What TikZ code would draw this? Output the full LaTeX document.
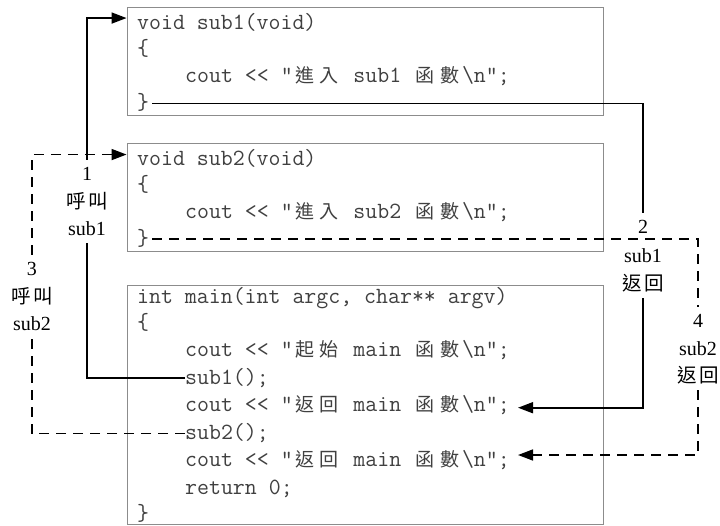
\documentclass[tikz,border=0pt]{standalone}
\usepackage{fontspec}
\setmainfont{Liberation Serif}
\newfontfamily\cjk{Noto Sans CJK TC}
\usetikzlibrary{arrows.meta}
\newcommand\zh[1]{\makebox[24.4pt]{\cjk\fontsize{19}{19}\selectfont #1}}
\newcommand\zhl[1]{\makebox[22pt]{\cjk\fontsize{19.5}{20}\selectfont #1}}
\begin{document}
\begin{tikzpicture}[x=1pt,y=-1pt,
  codebox/.style={draw=black!45, line width=0.9pt, inner sep=0pt},
  code/.style={anchor=base west, inner sep=0pt, text height=15pt, text depth=3pt,
    font=\fontsize{23.2}{24}\selectfont\ttfamily\frenchspacing, text=black!75},
  lbl/.style={anchor=base, inner xsep=2pt, inner ysep=4pt, text height=16pt, text depth=4pt,
    font=\fontsize{20}{24}\selectfont},
  conn/.style={line width=1.6pt},
  dconn/.style={conn, dash pattern=on 10pt off 7pt},
  tip/.style={-{Triangle[length=15pt,width=11pt]}}
]
\fill[white] (0,0) rectangle (720,525);
\useasboundingbox (0,0) rectangle (720,525);

% boxes
\node[codebox, minimum width=476pt, minimum height=108pt] (B1) at (365,61) {};
\node[codebox, minimum width=476pt, minimum height=108pt] (B2) at (365,197) {};
\node[codebox, minimum width=476pt, minimum height=239pt] (B3) at (365,404.5) {};

% box 1
\node[code] (T11) at (137,29.3) {void sub1(void)};
\node[code] (T12) at (137,55.8) {\{};
\node[code] (T13) at (185,82.6) {cout <{}< "\zh{進}\zh{入} sub1 \zh{函}\zh{數}\textbackslash n";};
\node[code] (R1) at (137,109.3) {\}};

% box 2
\node[code] (T21) at (137,165) {void sub2(void)};
\node[code] (T22) at (137,191.7) {\{};
\node[code] (T23) at (185,218.4) {cout <{}< "\zh{進}\zh{入} sub2 \zh{函}\zh{數}\textbackslash n";};
\node[code] (R2) at (137,245) {\}};

% box 3
\node[code] (T31) at (137,303.3) {int main(int argc, char** argv)};
\node[code] (T32) at (137,329.5) {\{};
\node[code] (T33) at (185,356.7) {cout <{}< "\zh{起}\zh{始} main \zh{函}\zh{數}\textbackslash n";};
\node[code] (C1) at (185,384) {sub1();};
\node[code] (RET1) at (185,411.7) {cout <{}< "\zh{返}\zh{回} main \zh{函}\zh{數}\textbackslash n";};
\node[code] (C2) at (185,439.5) {sub2();};
\node[code] (RET2) at (185,466.7) {cout <{}< "\zh{返}\zh{回} main \zh{函}\zh{數}\textbackslash n";};
\node[code] (T38) at (185,494.5) {return 0;};
\node[code] (T39) at (137,520.5) {\}};

% labels
\node[lbl] (L1a) at (87,180) {1};
\node[lbl] (L1b) at (87,208) {\zhl{呼}\zhl{叫}};
\node[lbl] (L1c) at (87,235) {sub1};

\node[lbl] (L2a) at (643,233) {2};
\node[lbl] (L2b) at (643,262) {sub1};
\node[lbl] (L2c) at (643,290) {\zhl{返}\zhl{回}};

\node[lbl] (L3a) at (32,275) {3};
\node[lbl] (L3b) at (32,303) {\zhl{呼}\zhl{叫}};
\node[lbl] (L3c) at (32,330) {sub2};

\node[lbl] (L4a) at (698,327) {4};
\node[lbl] (L4b) at (698,355) {sub2};
\node[lbl] (L4c) at (698,382) {\zhl{返}\zhl{回}};

% connectors
\draw[conn] (C1.west) -| (L1c.south);
\draw[conn,tip] (L1a.north) |- ([yshift=-11.5pt]B1.north west);

\draw[conn] ([xshift=3pt]R1.east) -| (L2a.north);
\draw[conn,tip] (L2c.south) |- ([xshift=8pt,yshift=-2pt]RET1.east);

\draw[dconn] (C2.west) -| (L3c.south);
\draw[dconn,tip] (L3a.north) |- ([yshift=-12pt]B2.north west);

\draw[dconn] ([xshift=3pt]R2.east) -| (L4a.north);
\draw[dconn,tip] (L4c.south) |- ([xshift=8pt,yshift=5.7pt]RET2.east);
\end{tikzpicture}
\end{document}
